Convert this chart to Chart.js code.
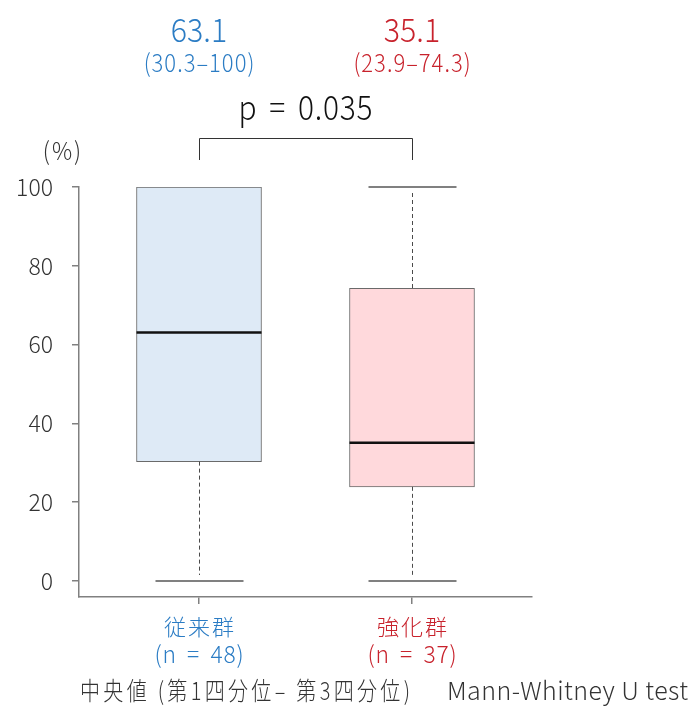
<!DOCTYPE html>
<html>
<head>
<meta charset="utf-8">
<script src="https://cdn.jsdelivr.net/npm/chart.js@4/dist/chart.umd.min.js"></script>
<style>
  html, body { margin: 0; padding: 0; background: #fff; }
  #wrap { width: 694px; height: 711px; position: relative; }
</style>
</head>
<body>
<div id="wrap"><canvas id="c" width="694" height="711"></canvas></div>
<script>
// Group names and sample sizes
const groups = ['従来群', '強化群'];
const groupSizes = ['(n = 48)', '(n = 37)'];

// Five-number summaries per group (%)
const minima  = [0, 0];
const q1      = [30.3, 23.9];
const medians = [63.1, 35.1];
const q3      = [100, 74.3];
const maxima  = [100, 100];

// Axis ticks and annotation texts
const yTicks = [0, 20, 40, 60, 80, 100];
const unitLabel = '(%)';
const pValueText = 'p = 0.035';
const footnoteLeft = '中央値 (第1四分位– 第3四分位)';
const footnoteRight = 'Mann-Whitney U test';

const FONT = "'Noto Sans CJK JP', 'Noto Sans', sans-serif";
const WEIGHT = 300;
const groupText = ['#2b7cc4', '#c8222c'];
const groupFill = ['#deeaf6', '#ffd9dc'];
const axisGray = '#808080';
const textDark = '#333333';

const fmt = v => String(v);

// Whiskers, caps and median lines drawn over the floating-bar boxes
const boxDecor = {
  id: 'boxDecor',
  afterDatasetsDraw(chart) {
    const { ctx, scales: { y } } = chart;
    const meta = chart.getDatasetMeta(0);
    const capHalf = 44, gap = 6;
    ctx.save();
    groups.forEach((g, i) => {
      const bar = meta.data[i];
      const cx = Math.round(bar.x) + 0.5;
      const half = bar.width / 2;
      const yMin = y.getPixelForValue(minima[i]);
      const yMax = y.getPixelForValue(maxima[i]);
      const yQ1 = y.getPixelForValue(q1[i]);
      const yQ3 = y.getPixelForValue(q3[i]);
      const yMed = y.getPixelForValue(medians[i]);

      // dashed whiskers
      ctx.setLineDash([4, 3]);
      ctx.strokeStyle = '#4a4a4a';
      ctx.lineWidth = 1;
      if (maxima[i] > q3[i]) {
        ctx.beginPath(); ctx.moveTo(cx, yMax + gap); ctx.lineTo(cx, yQ3); ctx.stroke();
      }
      if (minima[i] < q1[i]) {
        ctx.beginPath(); ctx.moveTo(cx, yQ1); ctx.lineTo(cx, yMin - gap); ctx.stroke();
      }

      // whisker caps
      ctx.setLineDash([]);
      ctx.strokeStyle = axisGray;
      ctx.lineWidth = 2;
      if (maxima[i] > q3[i]) {
        ctx.beginPath(); ctx.moveTo(cx - capHalf, yMax); ctx.lineTo(cx + capHalf, yMax); ctx.stroke();
      }
      if (minima[i] < q1[i]) {
        ctx.beginPath(); ctx.moveTo(cx - capHalf, yMin); ctx.lineTo(cx + capHalf, yMin); ctx.stroke();
      }

      // median
      ctx.strokeStyle = '#111111';
      ctx.lineWidth = 2.5;
      ctx.beginPath(); ctx.moveTo(bar.x - half, yMed); ctx.lineTo(bar.x + half, yMed); ctx.stroke();
    });
    ctx.restore();
  }
};

// Text helper: font size, horizontal squeeze, letter and word spacing (screen px)
function drawText(ctx, text, x, y, o) {
  const sx = o.sx || 1, spacing = o.spacing || 0, words = o.words || 0;
  ctx.save();
  ctx.font = `${WEIGHT} ${o.size}px ${FONT}`;
  ctx.fillStyle = o.color;
  ctx.textBaseline = 'middle';
  ctx.textAlign = o.align || 'center';
  ctx.translate(x, y);
  ctx.scale(sx, 1);
  ctx.letterSpacing = (spacing / sx) + 'px';
  ctx.wordSpacing = (words / sx) + 'px';
  // letterSpacing also trails the last glyph; compensate when centring
  const shift = ctx.textAlign === 'center' ? spacing / sx / 2 : 0;
  ctx.fillText(text, shift, 0);
  ctx.restore();
}

// Stretch a line of text between two x positions using letter spacing
function drawSpread(ctx, text, x0, x1, y, o) {
  const sx = o.sx || 1;
  ctx.save();
  ctx.font = `${WEIGHT} ${o.size}px ${FONT}`;
  const w = ctx.measureText(text).width * sx;
  ctx.restore();
  const n = Array.from(text).length;
  const spacing = n > 1 ? (x1 - x0 - w) / (n - 1) : 0;
  drawText(ctx, text, x0, y, Object.assign({}, o, { align: 'left', spacing }));
}

// Median/IQR headers, significance bracket, group labels, unit label and footnote
const annotations = {
  id: 'annotations',
  afterDraw(chart) {
    const { ctx, scales: { x } } = chart;
    const xs = groups.map((g, i) => x.getPixelForValue(i + 1));

    groups.forEach((g, i) => {
      const color = groupText[i];
      drawText(ctx, medians[i].toFixed(1), xs[i], 29, { size: 33, sx: 0.92, color });
      drawText(ctx, `(${fmt(q1[i])}–${fmt(q3[i])})`, xs[i], 62, { size: 25, sx: 0.88, spacing: 1, color });

      // category labels under the axis
      drawText(ctx, g, xs[i], 627, { size: 22, spacing: 2, color });
      drawText(ctx, groupSizes[i], xs[i], 654, { size: 24, sx: 0.95, spacing: 0.8, words: 4.5, color });
    });

    drawText(ctx, pValueText, (xs[0] + xs[1]) / 2, 107, { size: 34, sx: 0.88, spacing: 0.8, words: 4.5, color: '#111111' });

    // bracket between the groups
    ctx.save();
    ctx.strokeStyle = '#333333';
    ctx.lineWidth = 1;
    const bx0 = Math.round(xs[0]) + 0.5, bx1 = Math.round(xs[1]) + 0.5;
    ctx.beginPath();
    ctx.moveTo(bx0, 160); ctx.lineTo(bx0, 138.5); ctx.lineTo(bx1, 138.5); ctx.lineTo(bx1, 160);
    ctx.stroke();
    ctx.restore();

    drawText(ctx, unitLabel, 62, 150, { size: 25, sx: 0.9, spacing: 2, color: textDark });

    drawSpread(ctx, footnoteLeft, 80, 410, 690, { size: 25, sx: 0.8, color: textDark });
    drawSpread(ctx, footnoteRight, 447, 688, 690, { size: 25, color: textDark });
  }
};

new Chart(document.getElementById('c'), {
  type: 'bar',
  data: {
    datasets: [{
      data: groups.map((g, i) => ({ x: i + 1, y: [q1[i], q3[i]] })),
      backgroundColor: groupFill,
      borderColor: '#6a6a6a',
      borderWidth: 1,
      borderSkipped: false,
      barThickness: 125
    }]
  },
  options: {
    responsive: false,
    animation: false,
    devicePixelRatio: 1,
    layout: { padding: { top: 187, right: 162, left: 0, bottom: 0 } },
    plugins: {
      legend: { display: false },
      tooltip: { enabled: false }
    },
    scales: {
      x: {
        type: 'linear',
        offset: false,
        min: 0.4366,
        max: 2.5634,
        afterBuildTicks: s => { s.ticks = groups.map((g, i) => ({ value: i + 1 })); },
        afterFit: s => { s.height = 114; },
        grid: { display: true, offset: false, drawOnChartArea: false, drawTicks: true, tickLength: 7, color: axisGray, lineWidth: 1.5 },
        border: { display: true, color: axisGray, width: 1.5 },
        ticks: { display: false }
      },
      y: {
        min: -4.06,
        max: 100,
        afterBuildTicks: s => { s.ticks = yTicks.map(v => ({ value: v })); },
        afterFit: s => { s.width = 79; },
        grid: { display: true, drawOnChartArea: false, drawTicks: true, tickLength: 7, color: axisGray, lineWidth: 1.5 },
        border: { display: true, color: axisGray, width: 1.5 },
        ticks: {
          padding: 19,
          font: { family: FONT, size: 23, weight: WEIGHT },
          color: textDark
        }
      }
    }
  },
  plugins: [boxDecor, annotations]
});
</script>
</body>
</html>
